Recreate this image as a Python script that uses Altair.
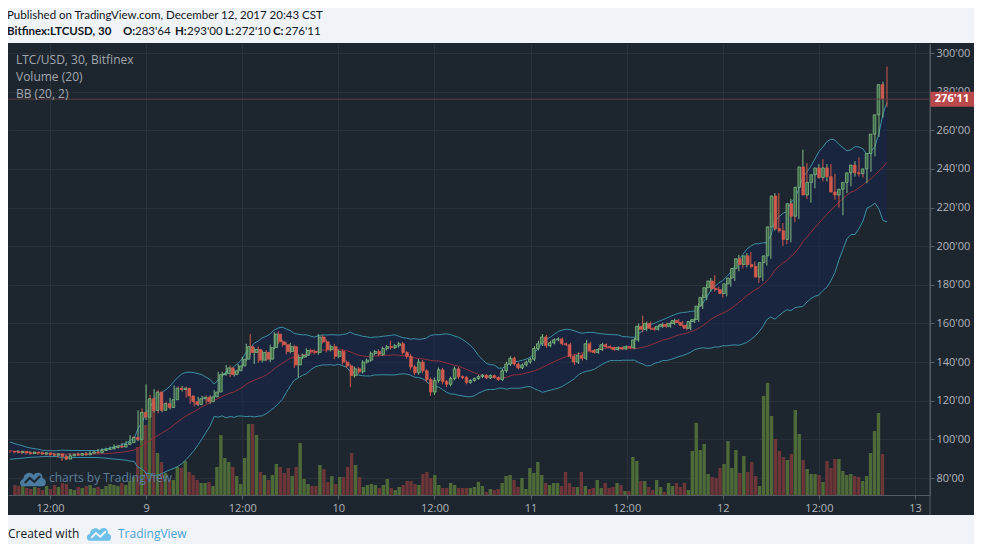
import altair as alt
import numpy as np
import pandas as pd

# ---------------- data (LTC/USD, 30-min bars, Bitfinex) ----------------
first_open = 93.8
closes = [
    93.5, 93.2, 93.8, 93.0, 92.6, 93.4, 93.1, 92.4, 93.0, 92.2,
    91.8, 92.5, 91.2, 89.8, 91.5, 92.3, 91.8, 92.6, 92.0, 92.8,
    93.5, 93.1, 94.2, 94.8, 95.0, 95.8, 96.5, 96.0, 97.4, 98.3,
    101.0, 99.8, 114.0, 111.5, 121.0, 115.0, 124.5, 115.0, 118.5, 116.5,
    120.5, 126.5, 125.8, 126.5, 122.5, 119.5, 118.0, 121.0, 121.8, 119.5,
    122.0, 124.5, 133.5, 134.0, 137.0, 133.5, 135.5, 138.0, 141.5, 148.0,
    145.0, 146.5, 141.0, 145.0, 141.5, 147.5, 154.5, 150.5, 149.0, 145.5,
    148.0, 138.5, 142.5, 143.5, 146.0, 145.5, 145.0, 153.0, 150.5, 146.5,
    148.0, 143.0, 145.5, 140.0, 138.0, 133.0, 136.5, 135.0, 140.0, 141.0,
    144.5, 145.5, 144.0, 147.0, 148.0, 147.5, 148.5, 149.5, 145.0, 143.0,
    137.5, 134.5, 140.0, 135.5, 131.0, 124.5, 130.5, 136.0, 130.0, 128.5,
    131.5, 136.5, 132.5, 132.0, 129.5, 130.5, 131.5, 132.5, 133.2, 131.8,
    133.0, 132.0, 131.0, 135.5, 139.0, 142.0, 139.0, 137.0, 138.5, 140.0,
    141.5, 147.0, 149.5, 153.0, 148.5, 150.0, 151.5, 152.0, 149.5, 149.0,
    143.0, 140.0, 143.5, 142.0, 149.5, 146.0, 145.0, 146.5, 149.0, 148.0,
    147.5, 146.5, 147.5, 146.8, 148.0, 147.5, 151.5, 158.5, 157.0, 160.0,
    157.5, 157.0, 158.5, 159.5, 158.5, 160.0, 161.5, 160.5, 159.0, 157.5,
    161.0, 162.0, 169.0, 173.5, 178.5, 182.0, 178.0, 177.5, 175.5, 180.5,
    183.5, 188.5, 193.5, 190.5, 195.0, 190.5, 189.5, 184.0, 191.5, 195.0,
    210.0, 226.0, 209.0, 208.0, 203.5, 222.0, 215.5, 230.5, 241.0, 226.5,
    233.0, 237.0, 240.5, 235.5, 240.5, 236.0, 228.0, 226.5, 229.5, 233.0,
    238.0, 242.0, 238.0, 237.5, 240.0, 248.0, 258.0, 268.0, 283.64, 276.11,
]
wick_up = [
    0.6, 0.5, 0.7, 0.4, 0.5, 0.6, 0.5, 0.4, 0.6, 0.5,
    0.5, 0.6, 0.4, 0.8, 0.6, 0.5, 0.4, 0.6, 0.5, 0.7,
    0.6, 0.5, 0.8, 0.6, 0.7, 0.5, 0.9, 0.6, 0.8, 0.7,
    1.2, 0.8, 1.0, 2.0, 7.5, 2.0, 1.5, 1.0, 1.2, 1.0,
    1.0, 1.5, 1.0, 1.2, 0.8, 0.9, 0.7, 1.0, 0.8, 0.9,
    0.8, 1.0, 1.5, 1.0, 1.5, 1.2, 0.8, 1.0, 1.2, 1.5,
    6.5, 1.0, 1.5, 1.0, 1.2, 1.5, 1.0, 1.5, 1.0, 1.2,
    2.0, 1.0, 1.5, 1.0, 1.2, 1.0, 1.0, 1.5, 1.0, 1.2,
    1.0, 1.5, 1.0, 1.2, 0.8, 1.0, 1.2, 1.0, 1.0, 0.8,
    1.0, 0.8, 1.0, 1.0, 0.8, 3.0, 0.8, 1.0, 1.0, 0.8,
    1.2, 1.0, 1.5, 1.0, 0.8, 1.0, 1.5, 1.2, 1.0, 0.8,
    1.0, 1.2, 1.0, 0.6, 0.8, 0.6, 0.5, 0.7, 0.6, 0.5,
    0.6, 0.5, 0.6, 1.0, 1.2, 1.0, 0.8, 0.7, 0.8, 0.7,
    0.8, 1.2, 1.5, 1.5, 1.0, 1.0, 0.8, 0.8, 0.7, 0.6,
    1.0, 1.2, 1.5, 1.0, 2.0, 1.0, 0.8, 0.8, 1.0, 0.7,
    0.6, 0.5, 0.6, 0.5, 0.6, 0.5, 1.0, 1.5, 5.5, 1.0,
    1.0, 0.8, 0.8, 1.0, 1.0, 0.8, 1.0, 0.8, 0.8, 0.7,
    1.0, 1.0, 1.5, 1.5, 2.0, 1.5, 3.0, 1.0, 1.2, 1.5,
    1.5, 1.5, 2.0, 1.5, 1.5, 2.0, 1.5, 1.5, 2.0, 1.5,
    7.0, 1.5, 1.5, 3.0, 2.0, 2.5, 3.0, 2.0, 9.0, 2.0,
    2.0, 1.5, 2.0, 4.5, 2.0, 2.0, 1.5, 1.5, 1.5, 1.5,
    2.0, 2.0, 4.0, 1.5, 1.5, 1.5, 1.5, 1.0, 1.5, 9.36,
]
wick_dn = [
    0.5, 0.6, 0.4, 0.7, 0.5, 0.4, 0.6, 0.5, 0.4, 0.6,
    0.7, 0.5, 0.8, 1.0, 0.5, 0.6, 0.5, 0.4, 0.6, 0.5,
    0.5, 0.6, 0.5, 0.7, 0.6, 0.5, 0.6, 0.7, 0.5, 0.6,
    0.8, 1.0, 0.8, 3.0, 1.5, 2.0, 1.0, 1.5, 1.0, 1.2,
    1.0, 0.8, 1.2, 1.0, 1.0, 1.2, 1.0, 0.8, 1.0, 1.0,
    1.0, 0.8, 1.0, 1.5, 1.0, 1.2, 1.0, 1.2, 1.0, 1.0,
    1.5, 6.0, 1.5, 1.2, 1.0, 1.5, 1.0, 1.2, 1.0, 1.5,
    1.0, 1.5, 6.5, 1.0, 1.0, 1.0, 1.0, 1.2, 1.0, 1.5,
    1.0, 1.5, 1.0, 1.2, 1.0, 6.0, 1.0, 1.2, 1.0, 0.8,
    0.8, 1.0, 1.0, 0.8, 1.0, 1.0, 0.8, 1.0, 1.0, 1.2,
    1.5, 1.2, 1.0, 1.2, 1.5, 2.0, 1.5, 1.2, 1.5, 1.5,
    1.0, 1.0, 1.2, 0.8, 1.0, 0.7, 0.6, 0.6, 0.7, 0.6,
    0.5, 0.6, 0.7, 0.8, 1.0, 1.0, 0.8, 0.8, 0.6, 0.7,
    0.8, 1.0, 1.0, 1.2, 1.2, 0.8, 0.8, 0.7, 0.8, 0.7,
    1.2, 1.5, 1.0, 1.2, 1.0, 1.0, 0.8, 0.7, 0.8, 0.8,
    0.6, 0.7, 0.5, 0.6, 0.5, 0.6, 0.8, 1.0, 1.5, 1.0,
    1.0, 0.8, 0.7, 0.8, 0.8, 0.7, 0.8, 0.8, 0.9, 1.0,
    1.0, 0.8, 1.2, 1.5, 1.5, 2.0, 1.5, 1.5, 2.0, 1.5,
    1.5, 1.5, 1.5, 2.0, 1.5, 2.0, 1.5, 3.0, 2.0, 1.5,
    1.5, 2.0, 2.0, 8.0, 2.5, 1.5, 3.0, 1.5, 2.0, 2.0,
    4.0, 3.0, 2.0, 2.0, 2.0, 2.0, 4.0, 6.5, 10.5, 2.0,
    2.0, 2.0, 2.0, 2.0, 5.0, 1.5, 1.5, 1.5, 1.5, 4.01,
]
volume = [
    10, 9, 11, 7, 6, 8, 7, 5, 9, 6, 10, 8, 12, 11, 6, 5, 8, 7, 9, 10,
    7, 8, 6, 9, 11, 10, 9, 12, 10, 14, 18, 48,
    83, 70, 96, 93, 42, 33, 22, 15, 15, 28, 27, 34, 23, 20, 15, 12, 12, 13, 9, 28,
    60, 37, 33, 28, 19, 11, 37, 71, 71, 60, 23, 20, 15, 20, 31, 28, 22, 27, 19, 28,
    52, 16, 11, 9, 9, 30, 26, 13, 19, 11, 18, 18, 28, 42, 30, 18,
    8, 10, 11, 10, 7, 10, 16, 7, 5, 8, 10, 14, 14, 11, 10, 21, 23, 17, 20, 10,
    7, 7, 12, 10, 7, 7, 7, 7, 8, 13, 9, 3, 6, 5, 6, 12, 19, 20, 15, 8,
    17, 6, 27, 22, 33, 20, 12, 10, 12, 12, 9, 23, 12, 8, 8, 23, 9, 6, 7,
    15, 7, 12, 7, 8, 12, 10, 4, 4, 38, 34, 14, 14, 8, 5, 15, 8, 3, 12, 9,
    12, 8, 12, 5, 44, 72, 45, 51, 21, 18, 17, 27, 31, 54, 27, 45, 22, 39, 23, 33,
    19, 9, 99, 112, 79, 56, 44, 38, 35, 41, 85, 61, 35, 26, 21, 21, 20, 13, 34, 27,
    36, 36, 24, 20, 21, 19, 18, 14, 19, 42, 64, 82, 41,
]
# closes of the 19 bars before the first visible one (only used to warm up the BB(20, 2))
bb_seed = [98.5, 97.8, 96.9, 97.4, 96.2, 95.5, 94.8, 95.6, 94.3, 93.2,
           92.0, 91.4, 92.6, 93.5, 92.1, 90.8, 91.9, 93.0, 92.4]

price_ticks = [80, 100, 120, 140, 160, 180, 200, 220, 240, 260, 280, 300]
time_ticks = [12, 24, 36, 48, 60, 72, 84, 96, 108, 120]   # hours since 8 Dec 2017 00:00
first_bar_hour = 7.0
bar_hours = 0.5

title_line = "Published on TradingView.com, December 12, 2017 20:43 CST"
symbol_line = "Bitfinex:LTCUSD, 30"
legend_lines = ["LTC/USD, 30, Bitfinex", "Volume (20)", "BB (20, 2)"]

# ---------------- derived table ----------------
n = len(closes)
t = [first_bar_hour + bar_hours * i for i in range(n)]
opens = [first_open] + closes[:-1]
highs = [max(a, b) + w for a, b, w in zip(opens, closes, wick_up)]
lows = [min(a, b) - w for a, b, w in zip(opens, closes, wick_dn)]
s = pd.Series(bb_seed + closes)
mid = s.rolling(20).mean().iloc[-n:].to_numpy()
sd = s.rolling(20).std(ddof=0).iloc[-n:].to_numpy()
df = pd.DataFrame(dict(t=t, o=opens, c=closes, h=highs, l=lows, v=volume,
                       mid=mid, up=mid + 2 * sd, dn=mid - 2 * sd))
df["dir"] = np.where(df.c >= df.o, "up", "down")

def fmt(v):
    return f"{v:.2f}".replace(".", "'")

last = df.iloc[-1]
last_df = pd.DataFrame({"c": [last.c], "label": [fmt(last.c)]})
ohlc_parts = [("O:", fmt(last.o)), ("H:", fmt(last.h)), ("L:", fmt(last.l)), ("C:", fmt(last.c))]

# ---------------- style ----------------
FONT = "Open Sans"
PAGE = "#f0f3f7"
PANEL = "#1d262e"
GRID = "#29323b"
DOMAIN = "#535a62"
LABEL = "#b2b5bc"
BAND_FILL = "#15234d"
BAND_LINE = "#3b90a7"
BASIS = "#922f3c"
UP_FILL, UP_LINE = "#3d6a47", "#82bb85"
DN = "#cf5a4d"
VOL_UP, VOL_DN = "#4e6a38", "#6c3538"

W, H = 922, 451
XDOM = [6.76, 121.87]
YDOM = [71.2, 304.66]

x_axis = alt.Axis(values=time_ticks,
                  labelExpr="datum.value % 24 == 0 ? toString(8 + datum.value / 24) : '12:00'",
                  grid=True, gridColor=GRID, domainColor=DOMAIN, tickColor=DOMAIN, tickSize=4,
                  labelColor=LABEL, labelFont=FONT, labelFontSize=11, labelPadding=3,
                  labelFlush=False, labelOverlap=False, title=None)
y_axis = alt.Axis(orient="right", values=price_ticks,
                  labelExpr="replace(format(datum.value, '.2f'), '.', \"'\")",
                  grid=True, gridColor=GRID, domainColor=DOMAIN, tickColor=DOMAIN, tickSize=4,
                  labelColor=LABEL, labelFont=FONT, labelFontSize=11, labelPadding=2,
                  labelFlush=False, labelOverlap=False, title=None)


def X(field="t", axis=None):
    return alt.X(f"{field}:Q", scale=alt.Scale(domain=XDOM, nice=False, zero=False), axis=axis)


def Y(field, axis=None):
    return alt.Y(f"{field}:Q", scale=alt.Scale(domain=YDOM, nice=False, zero=False), axis=axis)


base = alt.Chart(df)

band_fill = base.mark_area(color=BAND_FILL, opacity=0.55).encode(x=X(), y=Y("dn"), y2="up:Q")
vol = base.mark_bar(size=3.4).encode(
    x=X(),
    y=alt.Y("v:Q", scale=alt.Scale(domain=[0, H]), axis=None, stack=None),
    color=alt.Color("dir:N", scale=alt.Scale(domain=["up", "down"], range=[VOL_UP, VOL_DN]), legend=None),
)
upper = base.mark_line(color=BAND_LINE, strokeWidth=1).encode(x=X(), y=Y("up"))
lower = base.mark_line(color=BAND_LINE, strokeWidth=1).encode(x=X(), y=Y("dn"))
basis = base.mark_line(color=BASIS, strokeWidth=1).encode(x=X(), y=Y("mid"))
wicks = base.mark_rule(strokeWidth=1).encode(
    x=X("t", x_axis), y=Y("l", y_axis), y2="h:Q",
    color=alt.Color("dir:N", scale=alt.Scale(domain=["up", "down"], range=[UP_LINE, DN]), legend=None),
)
bodies = base.mark_bar(size=2.6, strokeWidth=0.8).encode(
    x=X(), y=Y("o"), y2="c:Q",
    fill=alt.Fill("dir:N", scale=alt.Scale(domain=["up", "down"], range=[UP_FILL, DN]), legend=None),
    stroke=alt.Stroke("dir:N", scale=alt.Scale(domain=["up", "down"], range=[UP_LINE, DN]), legend=None),
)

lastc = alt.Chart(last_df)
price_line = lastc.mark_rule(color="#5f3b43", strokeWidth=1).encode(
    x=alt.value(0), x2=alt.value(W), y=Y("c"))
price_box = lastc.mark_point(shape="M-1,-0.34L1,-0.34L1,0.34L-1,0.34Z", filled=True, opacity=1,
                             size=1936, color="#b9494a").encode(x=alt.value(944), y=Y("c"))
price_txt = lastc.mark_text(font=FONT, fontSize=11, fontWeight="bold", color="white",
                            align="center", baseline="middle").encode(
    x=alt.value(944), y=Y("c"), text="label:N")

one = alt.Chart(pd.DataFrame({"k": [0]}))


def rect(x1, x2, y1, y2, color):
    return one.mark_rect(color=color).encode(x=alt.value(x1), x2=alt.value(x2),
                                             y=alt.value(y1), y2=alt.value(y2))


def txt(s_, x, y, size=12, color="#131722", weight="normal", font=FONT):
    return one.mark_text(text=s_, font=font, fontSize=size, color=color, fontWeight=weight,
                         align="left", baseline="middle").encode(x=alt.value(x), y=alt.value(y))


CLOUD = ("M-0.75,0.55 C-1.05,0.55 -1.05,0.02 -0.72,0.0 C-0.72,-0.45 -0.2,-0.62 0.05,-0.3 "
         "C0.25,-0.62 0.78,-0.5 0.72,-0.05 C1.05,-0.02 1.05,0.55 0.75,0.55 Z")
ZIG = "M-0.62,0.3 L-0.25,-0.08 L0.1,0.22 L0.55,-0.22"


def logo(x, y, size, fill, line):
    c = one.mark_point(shape=CLOUD, filled=True, opacity=1, size=size, color=fill).encode(
        x=alt.value(x), y=alt.value(y))
    z = one.mark_point(shape=ZIG, filled=False, opacity=1, size=size, color=line, strokeWidth=2).encode(
        x=alt.value(x), y=alt.value(y))
    return [c, z]


deco = [
    rect(-8, 966, -36, -1, PAGE),
    rect(-8, 966, 471, 500, PAGE),
    one.mark_rule(color=DOMAIN).encode(x=alt.value(W), y=alt.value(0), y2=alt.value(471)),
]
HF = "Lato"
HS = 11.5
texts = [
    txt(title_line, -1, -28.5, HS, font=HF),
    txt(symbol_line, -1, -12.5, HS, weight="bold", font=HF),
]
ohlc_x = [115, 167, 217, 265]
for (k, v), xx in zip(ohlc_parts, ohlc_x):
    texts.append(txt(k, xx, -12.5, HS, weight="bold", font=HF))
    texts.append(txt(v, xx + (10 if k == "L:" else 12), -12.5, HS, font=HF))
for i, s_ in enumerate(legend_lines):
    texts.append(txt(s_, 8, 16 + 17 * i, 12, color="#a3a7ae"))
texts.append(txt("charts by TradingView", 41, 434, 12, color="#5d7f9c"))
texts.append(txt("Created with", 0, 490, 12))
texts.append(txt("TradingView", 110, 490, 12, color="#4aa3d8"))

layers = ([band_fill, vol, upper, lower, basis, wicks, bodies, price_line, price_box, price_txt]
          + deco + texts
          + logo(25, 435, 700, "#4b7b9e", PANEL) + logo(91, 490, 620, "#6cc0ea", PAGE))

chart = alt.layer(*layers).resolve_scale(
    x="independent", y="independent", color="independent", fill="independent", stroke="independent"
).properties(
    width=W, height=H,
    padding={"left": 0, "top": 36, "right": 44, "bottom": 49},
    autosize=alt.AutoSizeParams(type="none"),
    background=PANEL,
).configure_view(strokeWidth=0)

chart.save("out.html", embed_options={"renderer": "svg", "actions": False})
